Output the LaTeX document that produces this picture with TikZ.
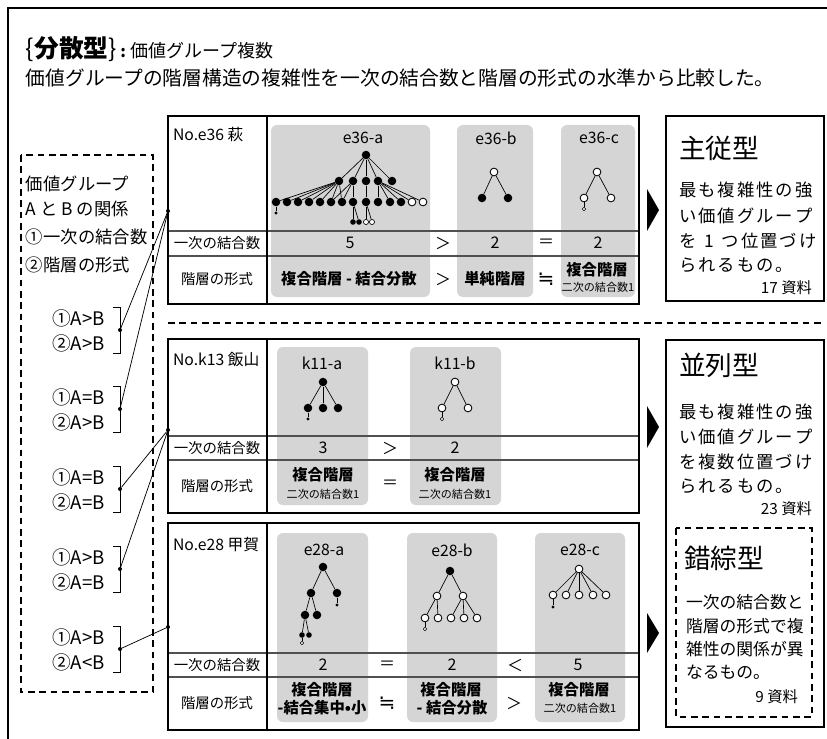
\documentclass[tikz,border=0pt]{standalone}
\usepackage{fontspec}
\setmainfont{Noto Sans CJK JP}
\newfontfamily\djv{DejaVu Sans}
\newcommand\myfs[1]{\fontsize{#1}{#1}\selectfont}
\newcommand\lsp[1]{\lspi#1\relax}
\def\lspi#1{\ifx#1\relax\else#1\kern1.5pt\expandafter\lspi\fi}
\definecolor{panelgray}{HTML}{D5D5D5}
\definecolor{rowgray}{HTML}{505050}
\tikzset{
  spanel/.style={fill=panelgray, rounded corners=4.5pt},
  stbl/.style={draw=black, line width=0.9pt},
  srow/.style={draw=rowgray, line width=0.8pt},
  sframe/.style={draw=black, line width=0.8pt},
  srbox/.style={draw=black, line width=1.3pt},
  sdash/.style={draw=black, line width=0.8pt, dash pattern=on 5pt off 3.5pt},
  bn/.style={circle, fill=black, inner sep=0pt, minimum size=6.4pt},
  wn/.style={circle, draw=black, fill=white, line width=0.65pt, inner sep=0pt, minimum size=5.8pt},
  sbn/.style={circle, fill=black, inner sep=0pt, minimum size=4.2pt},
  swn/.style={circle, draw=black, fill=white, line width=0.5pt, inner sep=0pt, minimum size=3.8pt},
  tdot/.style={circle, fill=black, inner sep=0pt, minimum size=2.4pt},
  twn/.style={circle, draw=black, fill=white, line width=0.45pt, inner sep=0pt, minimum size=2.6pt},
  sedge/.style={draw=black, line width=0.5pt},
  sconn/.style={draw=black, line width=0.55pt},
  sdot/.style={circle, fill=black, inner sep=0pt, minimum size=3pt},
  stx/.style={inner sep=0pt, outer sep=0pt},
  sleft/.style={stx, anchor=west, font=\myfs{13pt}},
  spair/.style={stx, anchor=west, font=\myfs{14pt}},
  sno/.style={stx, anchor=west, font=\myfs{11.8pt}},
  slab/.style={stx, font=\myfs{10.8pt}},
  scapt/.style={stx, font=\myfs{11.8pt}},
  sval/.style={stx, font=\myfs{12pt}},
  ssym/.style={stx, font=\myfs{12pt}},
  sapprox/.style={stx, font=\djv\myfs{15pt}},
  sbval/.style={stx, font=\bfseries\myfs{11.5pt}},
  ssmall/.style={stx, font=\myfs{8.3pt}},
  sttl/.style={stx, anchor=west, font=\myfs{20pt}},
  sbody/.style={stx, anchor=west, font=\myfs{13pt}},
  sbody2/.style={stx, anchor=west, font=\myfs{12.6pt}},
  snote/.style={stx, anchor=east, font=\myfs{11.5pt}}
}
\begin{document}
\begin{tikzpicture}[x=0.75pt,y=-0.75pt]
\useasboundingbox (0,0) rectangle (827,738);
\fill[white] (0,0) rectangle (827,738);
\begin{scope}
\clip (0,0) rectangle (827,738);
\draw[sframe] (8,760) -- (8,8) -- (850,8);
\end{scope}

% title
\node[stx, anchor=west] (title) at (26,49) {\myfs{18.5pt}\{\textbf{分散型}\}\myfs{12pt}\textbf{ : }\myfs{13.5pt}価値グループ複数};
\node[stx, anchor=west, font=\myfs{14.8pt}] (subtitle) at (26,78) {価値グループの階層構造の複雑性を一次の結合数と階層の形式の水準から比較した。};

% left dashed box
\draw[sdash] (21,155) rectangle (153,692);
\node[sleft] (lb1) at (26,184) {価値グループ};
\node[sleft] (lb2) at (26,209) {A と B の関係};
\node[sleft] (lb3) at (26,237) {①一次の結合数};
\node[sleft] (lb4) at (26,265) {②階層の形式};

\foreach \i/\m/\ra/\rb in {1/330/{A>B}/{A>B}, 2/409/{A=B}/{A>B}, 3/489/{A=B}/{A=B}, 4/569/{A>B}/{A=B}, 5/649/{A>B}/{A<B}} {
  \node[spair] (pa\i) at (52,{\m-12}) {①\ra};
  \node[spair] (pb\i) at (52,{\m+13}) {②\rb};
  \draw[sconn] (113,{\m-23}) -- (120,{\m-23}) -- (120,{\m+23}) -- (113,{\m+23});
  \node[sdot] (p\i) at (120,\m) {};
}

% separator
\draw[sdash] (168,323) -- (824,323);

% ===== table 1 =====
\path[spanel] (271,125) rectangle (430,297);
\path[spanel] (457,125) rectangle (533,297);
\path[spanel] (561,125) rectangle (635,297);
\draw[srow] (168,231) -- (639,231) (168,256) -- (639,256);
\draw[stbl] (168,116) rectangle (639,304) (267,116) -- (267,304);
\node[sno] (e36no) at (173,135) {No.e36 萩};
\node[slab] (e36r1) at (217,243) {一次の結合数};
\node[slab] (e36r2) at (217,279) {階層の形式};
\node[scapt] (e36ac) at (363,138) {e36-a};
\node[scapt] (e36bc) at (496,138) {e36-b};
\node[scapt] (e36cc) at (599,138) {e36-c};
\node[sval] (e36a1) at (350,243) {5};
\node[ssym] (e36s1) at (443,243) {＞};
\node[sval] (e36b1) at (495,243) {2};
\node[ssym] (e36s2) at (546,243) {＝};
\node[sval] (e36c1) at (598,243) {2};
\node[sbval] (e36a2) at (349,279) {複合階層 - 結合分散};
\node[ssym] (e36s3) at (443,279) {＞};
\node[sbval] (e36b2) at (495,279) {単純階層};
\node[sapprox] (e36s4) at (546,279) {≒};
\node[sbval] (e36c2) at (597,270) {複合階層};
\node[ssmall] (e36c3) at (598,287) {二次の結合数1};

% tree e36-a
\node[bn] (a0) at (366,155) {};
\foreach \i/\x in {1/339,2/353,3/366,4/378,5/392} \node[bn] (a1\i) at (\x,181) {};
\foreach \i/\x in {1/276,2/287,3/298,4/309,5/320,6/331,7/342,8/353,9/366,10/378,11/390,12/401} \node[bn] (a2n\i) at (\x,202) {};
\node[wn] (a2n13) at (412,202) {};
\node[wn] (a2n14) at (423,202) {};
\node[tdot] (a2t) at (276,213) {};
\node[sbn] (a3n1) at (353,222) {};
\node[sbn] (a3n2) at (359,222) {};
\node[swn] (a3n3) at (366,222) {};
\node[swn] (a3n4) at (372,222) {};
\foreach \i in {1,...,5} \draw[sedge] (a0) -- (a1\i);
\foreach \j in {1,...,7} \draw[sedge] (a11) -- (a2n\j);
\foreach \j in {6,7,8} \draw[sedge] (a12) -- (a2n\j);
\draw[sedge] (a13) -- (a2n9);
\foreach \j in {10,...,14} \draw[sedge] (a14) -- (a2n\j);
\draw[sedge] (a2n1) -- (a2t);
\draw[sedge] (a2n8) -- (a3n1);
\draw[sedge] (a2n8) -- (a3n2);
\draw[sedge] (a2n9) -- (a3n3);
\draw[sedge] (a2n9) -- (a3n4);

% tree e36-b
\node[wn] (b0) at (494,172) {};
\node[bn] (b1) at (482,198) {};
\node[bn] (b2) at (508,198) {};
\draw[sedge] (b0) -- (b1);
\draw[sedge] (b0) -- (b2);

% tree e36-c
\node[wn] (c0) at (597,172) {};
\node[wn] (c1) at (584,198) {};
\node[wn] (c2) at (611,198) {};
\node[twn] (c3) at (584,209) {};
\draw[sedge] (c0) -- (c1);
\draw[sedge] (c0) -- (c2);
\draw[sedge] (c1) -- (c3);

% ===== table 2 =====
\path[spanel] (277,347) rectangle (368,505);
\path[spanel] (410,347) rectangle (501,505);
\draw[srow] (168,436) -- (639,436) (168,460) -- (639,460);
\draw[stbl] (168,339) rectangle (639,513) (267,339) -- (267,513);
\node[sno] (k13no) at (173,360) {No.k13 飯山};
\node[slab] (k13r1) at (217,448) {一次の結合数};
\node[slab] (k13r2) at (217,486) {階層の形式};
\node[scapt] (k11ac) at (322,363) {k11-a};
\node[scapt] (k11bc) at (455,363) {k11-b};
\node[sval] (k11a1) at (323,448) {3};
\node[ssym] (k11s1) at (390,448) {＞};
\node[sval] (k11b1) at (455,448) {2};
\node[sbval] (k11a2) at (323,475) {複合階層};
\node[ssmall] (k11a3) at (323,494) {二次の結合数1};
\node[ssym] (k11s2) at (390,484) {＝};
\node[sbval] (k11b2) at (455,475) {複合階層};
\node[ssmall] (k11b3) at (455,494) {二次の結合数1};

% tree k11-a
\node[bn] (d0) at (323,382) {};
\node[bn] (d1) at (308,408) {};
\node[bn] (d2) at (323,408) {};
\node[bn] (d3) at (338,408) {};
\node[tdot] (d4) at (308,419) {};
\draw[sedge] (d0) -- (d1);
\draw[sedge] (d0) -- (d2);
\draw[sedge] (d0) -- (d3);
\draw[sedge] (d1) -- (d4);

% tree k11-b
\node[wn] (f0) at (455,382) {};
\node[wn] (f1) at (442,408) {};
\node[wn] (f2) at (468,408) {};
\node[twn] (f3) at (442,419) {};
\draw[sedge] (f0) -- (f1);
\draw[sedge] (f0) -- (f2);
\draw[sedge] (f1) -- (f3);

% ===== table 3 =====
\path[spanel] (277,533) rectangle (368,722);
\path[spanel] (407,533) rectangle (497,722);
\path[spanel] (535,533) rectangle (625,722);
\draw[srow] (168,653) -- (639,653) (168,677) -- (639,677);
\draw[stbl] (168,523) rectangle (639,730) (267,523) -- (267,730);
\node[sno] (e28no) at (173,545) {No.e28 甲賀};
\node[slab] (e28r1) at (217,665) {一次の結合数};
\node[slab] (e28r2) at (217,703) {階層の形式};
\node[scapt] (e28ac) at (324,550) {e28-a};
\node[scapt] (e28bc) at (452,550) {e28-b};
\node[scapt] (e28cc) at (580,550) {e28-c};
\node[sval] (e28a1) at (323,665) {2};
\node[ssym] (e28s1) at (387,665) {＝};
\node[sval] (e28b1) at (452,665) {2};
\node[ssym] (e28s2) at (515,665) {＜};
\node[sval] (e28c1) at (578,665) {5};
\node[sbval] (e28a2) at (322,690) {複合階層};
\node[sbval] (e28a3) at (322,708) {-結合集中•小};
\node[sapprox] (e28s3) at (387,703) {≒};
\node[sbval] (e28b2) at (451,690) {複合階層};
\node[sbval] (e28b3) at (452,708) {- 結合分散};
\node[ssym] (e28s4) at (514,703) {＞};
\node[sbval] (e28c2) at (579,690) {複合階層};
\node[ssmall] (e28c3) at (580,708) {二次の結合数1};

% tree e28-a
\node[bn] (g0) at (323,567) {};
\node[bn] (g1) at (311,593) {};
\node[bn] (g2) at (337,593) {};
\node[tdot] (g3) at (337,605) {};
\node[bn] (g4) at (305,615) {};
\node[bn] (g5) at (317,615) {};
\node[sbn] (g6) at (302,635) {};
\node[sbn] (g7) at (309,635) {};
\node[twn] (g8) at (302,643) {};
\draw[sedge] (g0) -- (g1);
\draw[sedge] (g0) -- (g2);
\draw[sedge] (g2) -- (g3);
\draw[sedge] (g1) -- (g4);
\draw[sedge] (g1) -- (g5);
\draw[sedge] (g4) -- (g6);
\draw[sedge] (g4) -- (g7);
\draw[sedge] (g6) -- (g8);

% tree e28-b
\node[bn] (h0) at (450,571) {};
\node[wn] (h1) at (437,596) {};
\node[wn] (h2) at (463,596) {};
\foreach \i/\x in {3/425,4/438,5/451,6/464,7/477} \node[wn] (h\i) at (\x,618) {};
\node[twn] (h8) at (425,629) {};
\draw[sedge] (h0) -- (h1);
\draw[sedge] (h0) -- (h2);
\draw[sedge] (h1) -- (h3);
\draw[sedge] (h1) -- (h4);
\draw[sedge] (h2) -- (h5);
\draw[sedge] (h2) -- (h6);
\draw[sedge] (h2) -- (h7);
\draw[sedge] (h3) -- (h8);

% tree e28-c
\node[wn] (m0) at (579,569) {};
\foreach \i/\x in {1/553,2/566,3/579,4/593,5/606} \node[wn] (m\i) at (\x,595) {};
\node[tdot] (m6) at (553,607) {};
\foreach \i in {1,...,5} \draw[sedge] (m0) -- (m\i);
\draw[sedge] (m1) -- (m6);

% junctions and connectors
\node[sdot] (j1) at (168,211) {};
\node[sdot] (j2) at (168,430) {};
\node[sdot] (j3) at (168,627) {};
\draw[sconn] (p1) -- (j1);
\draw[sconn] (p2) -- (j1);
\draw[sconn] (p3) -- (j2);
\draw[sconn] (p4) -- (j2);
\draw[sconn] (p5) -- (j3);

% arrows
\fill (647,189) -- (647,231) -- (659,210) -- cycle;
\fill (647,406) -- (647,448) -- (659,427) -- cycle;
\fill (647,613) -- (647,653) -- (659,633) -- cycle;

% right boxes
\draw[srbox] (666,116) rectangle (824,301);
\node[sttl] (t1) at (679,148) {主従型};
\node[sbody] (t1a) at (679,190) {\lsp{最も複雑性の強}};
\node[sbody] (t1b) at (679,216) {\lsp{い価値グループ}};
\node[sbody] (t1c) at (679,241) {\lsp{を\ 1\ つ位置づけ}};
\node[sbody] (t1d) at (679,265) {\lsp{られるもの。}};
\node[snote] (t1e) at (812,288) {17 資料};

\draw[srbox] (666,340) rectangle (824,727);
\node[sttl] (t2) at (679,365) {並列型};
\node[sbody] (t2a) at (679,412) {\lsp{最も複雑性の強}};
\node[sbody] (t2b) at (679,437) {\lsp{い価値グループ}};
\node[sbody] (t2c) at (679,462) {\lsp{を複数位置づけ}};
\node[sbody] (t2d) at (679,486) {\lsp{られるもの。}};
\node[snote] (t2e) at (812,509) {23 資料};

\draw[sdash] (676,528) rectangle (812,717);
\node[sttl] (t3) at (684,558) {錯綜型};
\node[sbody2] (t3a) at (686,602) {一次の結合数と};
\node[sbody2] (t3b) at (686,626) {階層の形式で複};
\node[sbody2] (t3c) at (686,649) {雑性の関係が異};
\node[sbody2] (t3d) at (686,672) {なるもの。};
\node[snote] (t3e) at (798,697) {9 資料};
\end{tikzpicture}
\end{document}
